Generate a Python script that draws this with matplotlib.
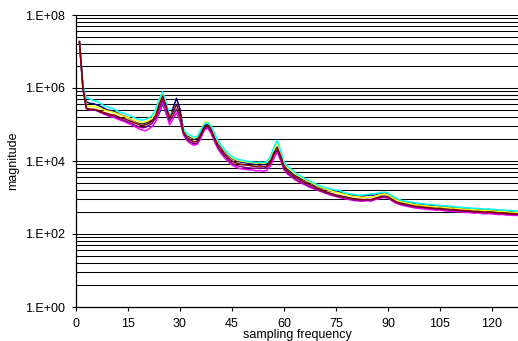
import matplotlib
matplotlib.use("Agg")
import matplotlib.pyplot as plt
import numpy as np
from matplotlib.ticker import FixedLocator, FuncFormatter

# sampling frequency index
freq = list(range(1, 129))

# log10(magnitude), one list per series
navy_log = [7.27, 6.02, 5.62, 5.58, 5.57, 5.54, 5.50, 5.45, 5.40, 5.38, 5.36, 5.31, 5.26, 5.23, 5.19, 5.14,
            5.10, 5.05, 5.02, 5.04, 5.08, 5.12, 5.15, 5.30, 5.58, 5.30, 5.15, 5.45, 5.72, 5.42, 4.85, 4.70,
            4.65, 4.60, 4.63, 4.80, 4.97, 5.00, 4.90, 4.68, 4.50, 4.37, 4.25, 4.15, 4.07, 4.02, 3.98, 3.96,
            3.95, 3.93, 3.92, 3.93, 3.92, 3.91, 3.92, 4.02, 4.22, 4.30, 4.10, 3.90, 3.78, 3.70, 3.63, 3.57,
            3.52, 3.47, 3.42, 3.38, 3.33, 3.29, 3.25, 3.22, 3.19, 3.17, 3.15, 3.16, 3.12, 3.09, 3.07, 3.05,
            3.04, 3.03, 3.04, 3.06, 3.07, 3.06, 3.08, 3.11, 3.12, 3.09, 3.02, 2.97, 2.92, 2.89, 2.87, 2.85,
            2.84, 2.82, 2.81, 2.80, 2.79, 2.78, 2.78, 2.76, 2.75, 2.75, 2.74, 2.74, 2.72, 2.71, 2.71, 2.70,
            2.71, 2.68, 2.67, 2.67, 2.66, 2.66, 2.65, 2.64, 2.64, 2.63, 2.62, 2.62, 2.61, 2.60, 2.60, 2.59]
magenta_log = [7.27, 5.97, 5.43, 5.40, 5.41, 5.38, 5.33, 5.29, 5.25, 5.21, 5.19, 5.15, 5.11, 5.08, 5.03, 4.99,
               4.94, 4.89, 4.85, 4.83, 4.88, 4.95, 5.08, 5.35, 5.62, 5.30, 4.99, 5.15, 5.32, 5.10, 4.72, 4.56,
               4.48, 4.43, 4.46, 4.62, 4.85, 4.90, 4.75, 4.52, 4.32, 4.19, 4.07, 3.97, 3.89, 3.84, 3.80, 3.78,
               3.77, 3.76, 3.75, 3.73, 3.74, 3.72, 3.74, 3.85, 4.05, 4.25, 4.02, 3.75, 3.64, 3.57, 3.50, 3.44,
               3.39, 3.35, 3.30, 3.26, 3.22, 3.19, 3.15, 3.12, 3.08, 3.05, 3.03, 3.00, 2.98, 2.96, 2.94, 2.92,
               2.91, 2.90, 2.90, 2.91, 2.90, 2.93, 2.96, 2.99, 3.00, 2.98, 2.92, 2.86, 2.82, 2.79, 2.77, 2.75,
               2.73, 2.71, 2.70, 2.69, 2.68, 2.67, 2.66, 2.65, 2.66, 2.64, 2.63, 2.62, 2.62, 2.61, 2.61, 2.59,
               2.59, 2.58, 2.57, 2.58, 2.56, 2.55, 2.56, 2.55, 2.54, 2.53, 2.54, 2.52, 2.52, 2.51, 2.51, 2.50]
yellow_log = [7.27, 6.00, 5.52, 5.50, 5.50, 5.47, 5.43, 5.40, 5.37, 5.35, 5.33, 5.29, 5.25, 5.22, 5.19, 5.15,
              5.11, 5.07, 5.05, 5.07, 5.11, 5.18, 5.35, 5.62, 5.82, 5.55, 5.22, 5.30, 5.38, 5.22, 4.86, 4.72,
              4.68, 4.62, 4.66, 4.85, 5.06, 5.08, 4.97, 4.72, 4.52, 4.40, 4.27, 4.17, 4.09, 4.04, 4.01, 3.99,
              3.98, 3.96, 3.95, 3.94, 3.95, 3.94, 3.96, 4.06, 4.30, 4.48, 4.25, 3.95, 3.82, 3.74, 3.66, 3.60,
              3.55, 3.49, 3.44, 3.40, 3.35, 3.30, 3.27, 3.23, 3.20, 3.17, 3.14, 3.12, 3.10, 3.08, 3.05, 3.03,
              3.02, 3.01, 3.00, 3.01, 3.01, 3.03, 3.06, 3.09, 3.10, 3.07, 3.01, 2.95, 2.91, 2.88, 2.86, 2.84,
              2.82, 2.80, 2.79, 2.78, 2.77, 2.76, 2.75, 2.74, 2.74, 2.73, 2.72, 2.71, 2.71, 2.70, 2.69, 2.68,
              2.68, 2.67, 2.66, 2.66, 2.65, 2.64, 2.64, 2.63, 2.63, 2.62, 2.61, 2.61, 2.60, 2.59, 2.59, 2.58]
cyan_log = [7.27, 6.05, 5.73, 5.70, 5.66, 5.63, 5.58, 5.52, 5.48, 5.45, 5.42, 5.37, 5.33, 5.30, 5.27, 5.22,
            5.18, 5.14, 5.12, 5.14, 5.18, 5.25, 5.42, 5.70, 5.90, 5.60, 5.26, 5.35, 5.42, 5.25, 4.88, 4.74,
            4.71, 4.65, 4.68, 4.85, 5.02, 5.05, 4.95, 4.74, 4.55, 4.42, 4.30, 4.20, 4.12, 4.07, 4.04, 4.02,
            4.00, 3.98, 3.97, 3.96, 3.97, 3.96, 3.98, 4.10, 4.35, 4.57, 4.30, 3.98, 3.86, 3.78, 3.70, 3.63,
            3.58, 3.52, 3.47, 3.43, 3.38, 3.33, 3.30, 3.27, 3.24, 3.22, 3.20, 3.19, 3.15, 3.12, 3.10, 3.08,
            3.07, 3.06, 3.07, 3.08, 3.10, 3.10, 3.12, 3.14, 3.15, 3.12, 3.05, 3.00, 2.95, 2.92, 2.90, 2.88,
            2.87, 2.85, 2.84, 2.83, 2.82, 2.81, 2.80, 2.79, 2.78, 2.77, 2.77, 2.76, 2.75, 2.74, 2.73, 2.72,
            2.72, 2.71, 2.70, 2.70, 2.69, 2.68, 2.69, 2.68, 2.67, 2.66, 2.66, 2.65, 2.64, 2.64, 2.63, 2.62]
purple_log = [7.27, 5.98, 5.44, 5.41, 5.40, 5.38, 5.34, 5.30, 5.27, 5.24, 5.22, 5.18, 5.14, 5.11, 5.07, 5.03,
              4.98, 4.94, 4.91, 4.92, 4.97, 5.04, 5.18, 5.45, 5.68, 5.42, 5.08, 5.25, 5.42, 5.20, 4.76, 4.60,
              4.52, 4.47, 4.50, 4.68, 4.88, 4.93, 4.80, 4.57, 4.37, 4.24, 4.12, 4.02, 3.94, 3.89, 3.86, 3.84,
              3.82, 3.81, 3.80, 3.80, 3.81, 3.80, 3.82, 3.92, 4.15, 4.30, 4.08, 3.80, 3.68, 3.60, 3.53, 3.47,
              3.42, 3.37, 3.32, 3.28, 3.24, 3.20, 3.17, 3.13, 3.10, 3.07, 3.04, 3.02, 3.00, 2.98, 2.96, 2.94,
              2.93, 2.92, 2.92, 2.93, 2.92, 2.95, 2.98, 3.01, 3.02, 3.00, 2.94, 2.88, 2.84, 2.81, 2.79, 2.77,
              2.75, 2.74, 2.73, 2.72, 2.71, 2.70, 2.69, 2.68, 2.68, 2.67, 2.66, 2.65, 2.65, 2.64, 2.63, 2.62,
              2.62, 2.61, 2.60, 2.60, 2.59, 2.58, 2.59, 2.58, 2.57, 2.56, 2.56, 2.55, 2.54, 2.54, 2.53, 2.53]
maroon_log = [7.27, 6.00, 5.45, 5.42, 5.42, 5.40, 5.36, 5.33, 5.30, 5.27, 5.26, 5.22, 5.18, 5.16, 5.12, 5.08,
              5.04, 5.00, 4.97, 4.99, 5.03, 5.10, 5.25, 5.55, 5.78, 5.50, 5.18, 5.35, 5.55, 5.30, 4.80, 4.65,
              4.58, 4.52, 4.55, 4.72, 4.92, 4.98, 4.85, 4.62, 4.42, 4.30, 4.18, 4.08, 4.00, 3.95, 3.92, 3.90,
              3.89, 3.88, 3.86, 3.85, 3.87, 3.85, 3.86, 3.95, 4.20, 4.38, 4.15, 3.85, 3.72, 3.65, 3.58, 3.52,
              3.47, 3.42, 3.37, 3.33, 3.28, 3.24, 3.20, 3.16, 3.13, 3.10, 3.07, 3.05, 3.03, 3.01, 2.99, 2.97,
              2.96, 2.95, 2.94, 2.95, 2.94, 2.97, 3.00, 3.03, 3.04, 3.02, 2.96, 2.90, 2.86, 2.84, 2.82, 2.80,
              2.78, 2.76, 2.75, 2.74, 2.73, 2.72, 2.71, 2.70, 2.70, 2.69, 2.68, 2.67, 2.67, 2.66, 2.65, 2.64,
              2.64, 2.63, 2.62, 2.62, 2.61, 2.60, 2.61, 2.60, 2.59, 2.58, 2.58, 2.57, 2.56, 2.56, 2.55, 2.55]

series = [
    (navy_log, "#000080"),
    (magenta_log, "#FF00FF"),
    (yellow_log, "#FFFF00"),
    (cyan_log, "#00FFFF"),
    (purple_log, "#800080"),
    (maroon_log, "#800000"),
]

x_ticks = [0, 15, 30, 45, 60, 75, 90, 105, 120]
y_major = [1e0, 1e2, 1e4, 1e6, 1e8]
x_label = "sampling frequency"
y_label = "magnitude"

plt.rcParams["font.family"] = ["Liberation Sans", "DejaVu Sans"]

fig = plt.figure(figsize=(5.18, 3.41), dpi=100)
ax = fig.add_axes([76 / 518, 34 / 341, 443.7 / 518, 292 / 341])

ax.set_yscale("log")
ax.set_ylim(1e0, 1e8)
ax.set_xlim(0, 128)

# Excel-style minor grid: within each 2-decade span, lines at lower * k^2
minor_vals = [lo * k * k for lo in y_major[:-1] for k in range(2, 10)]
ax.yaxis.set_major_locator(FixedLocator(y_major))
ax.yaxis.set_minor_locator(FixedLocator(minor_vals))
ax.yaxis.set_major_formatter(FuncFormatter(lambda v, p: "1.E+%02d" % int(round(np.log10(v)))))
ax.yaxis.set_minor_formatter(FuncFormatter(lambda v, p: ""))
ax.grid(True, which="both", axis="y", color="black", linewidth=0.75)
ax.set_axisbelow(True)

for vals, col in series:
    ax.plot(freq, [10 ** v for v in vals], color=col, linewidth=1.1, zorder=3)

ax.set_xticks(x_ticks)
ax.tick_params(axis="x", which="major", direction="out", length=3, width=0.8, labelsize=9, pad=5)
ax.tick_params(axis="y", which="major", direction="out", length=3, width=0.8, labelsize=9, pad=5)
ax.tick_params(axis="y", which="minor", length=0)

for s in ["top", "right"]:
    ax.spines[s].set_visible(False)
for s in ["left", "bottom"]:
    ax.spines[s].set_color("black")
    ax.spines[s].set_linewidth(0.9)

ax.set_xlabel(x_label, fontsize=9, labelpad=-1)
ax.set_ylabel(y_label, fontsize=9, labelpad=4)

fig.savefig("out.png", dpi=100)
